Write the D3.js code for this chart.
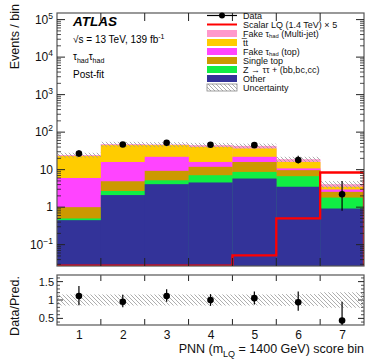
<!DOCTYPE html>
<html>
<head>
<meta charset="utf-8">
<script src="https://cdn.jsdelivr.net/npm/d3@7"></script>
<style>
  body { margin: 0; background: #fff; }
  text { font-family: "Liberation Sans", Arial, sans-serif; }
</style>
</head>
<body>
<div id="chart"></div>
<script>
// bins of the PNN score
var bins = [1, 2, 3, 4, 5, 6, 7];

// background samples, per bin (not stacked)
var other    = [0.45, 2.1, 4.1, 4.55, 5.8, 3.5, 0.92];
var ztautau  = [0.05, 0.6, 1.1, 2.55, 2.9, 3.2, 0.88];
var singleTop= [0.5, 2.2, 4.1, 4.8, 7.3, 3.0, 0.76];
var fakeTop  = [5.0, 11.1, 12.7, 4.1, 6.0, 1.1, 0.4];
var ttbar    = [17, 29, 23, 24.6, 14.7, 5.2, 0.54];
var fakeMJ   = [1.5, 3, 2, 4.4, 6.3, 3, 0.6];
var uncRel   = [0.15, 0.15, 0.15, 0.15, 0.15, 0.16, 0.21];

var data     = [27, 47, 52, 46, 45, 18, 2.2];
var dataUp   = [6, 7.5, 8, 7.5, 7.5, 5.6, 2.8];
var dataDn   = [5, 6.5, 7, 6.5, 6.5, 3.5, 1.4];

// signal LQ x5 (first bins are below the axis)
var signal   = [0.001, 0.001, 0.001, 0.001, 0.052, 0.5, 8.4];

var ratio    = [1.11, 0.95, 1.11, 1.0, 1.05, 0.94, 0.44];
var ratioUp  = [0.27, 0.19, 0.18, 0.16, 0.18, 0.29, 0.51];
var ratioDn  = [0.25, 0.15, 0.16, 0.16, 0.17, 0.23, 0.5];

var samples = [
  {name: "Other", vals: other, color: "#333399"},
  {name: "ztt", vals: ztautau, color: "#11ee44"},
  {name: "Single top", vals: singleTop, color: "#cc9900"},
  {name: "faketop", vals: fakeTop, color: "#ff44ff"},
  {name: "ttbar", vals: ttbar, color: "#ffcc00"},
  {name: "fakemj", vals: fakeMJ, color: "#ff99cc"}
];

var W = 366, H = 360;
var left = 57, right = 364;
var mTop = 13, mBot = 266;
var rTop = 275, rBot = 325;
var frameCol = "#555";

var svg = d3.select("#chart").append("svg")
  .attr("width", W).attr("height", H);

var defs = svg.append("defs");
var pat = defs.append("pattern")
  .attr("id", "hatch")
  .attr("patternUnits", "userSpaceOnUse")
  .attr("width", 4).attr("height", 4);
pat.append("path")
  .attr("d", "M-1,-1 L5,5 M-1,3 L1,5 M3,-1 L5,1")
  .attr("stroke", "#999").attr("stroke-width", 0.8);

defs.append("clipPath").attr("id", "clipMain")
  .append("rect").attr("x", left).attr("y", mTop)
  .attr("width", right - left).attr("height", mBot - mTop);
defs.append("clipPath").attr("id", "clipRatio")
  .append("rect").attr("x", left).attr("y", rTop)
  .attr("width", right - left).attr("height", rBot - rTop);

var x = d3.scaleLinear().domain([0.5, 7.5]).range([left, right]);
var y = d3.scaleLog().domain([0.027, 1.5e5]).range([mBot, mTop]);
var yr = d3.scaleLinear().domain([0.32, 1.68]).range([rBot, rTop]);

// stack
var table = bins.map(function(b, i) {
  var row = {bin: b};
  samples.forEach(function(s) { row[s.name] = s.vals[i]; });
  return row;
});
var stack = d3.stack().keys(samples.map(function(s) { return s.name; }));
var layers = stack(table);

var main = svg.append("g").attr("clip-path", "url(#clipMain)");

// draw top layer first so lower layers sit on top of it
layers.slice().reverse().forEach(function(layer) {
  var k = layer.index;
  main.selectAll(null).data(layer).enter().append("rect")
    .attr("x", function(d) { return x(d.data.bin - 0.5); })
    .attr("width", x(1.5) - x(0.5) + 0.3)
    .attr("y", function(d) { return y(d[1]); })
    .attr("height", function(d) { return mBot - y(d[1]); })
    .attr("fill", samples[k].color);
});

var totals = table.map(function(r) {
  return d3.sum(samples, function(s) { return r[s.name]; });
});

// uncertainty band
main.selectAll(null).data(bins).enter().append("rect")
  .attr("x", function(d) { return x(d - 0.5); })
  .attr("width", x(1.5) - x(0.5))
  .attr("y", function(d, i) { return y(totals[i] * (1 + uncRel[i])); })
  .attr("height", function(d, i) {
    return y(totals[i] * (1 - uncRel[i])) - y(totals[i] * (1 + uncRel[i]));
  })
  .attr("fill", "url(#hatch)");

// signal histogram
var sigPts = [];
bins.forEach(function(b, i) {
  var v = Math.max(signal[i], 0.0275);
  sigPts.push([x(b - 0.5), y(v)]);
  sigPts.push([x(b + 0.5), y(v)]);
});
sigPts.push([x(7.5), mBot]);
main.append("path")
  .attr("d", d3.line()(sigPts))
  .attr("fill", "none").attr("stroke", "#ff0000").attr("stroke-width", 2.3);

// data
main.selectAll(null).data(bins).enter().append("line")
  .attr("x1", function(d) { return x(d); }).attr("x2", function(d) { return x(d); })
  .attr("y1", function(d, i) { return y(data[i] + dataUp[i]); })
  .attr("y2", function(d, i) { return y(data[i] - dataDn[i]); })
  .attr("stroke", "#000").attr("stroke-width", 1.2);
main.selectAll(null).data(bins).enter().append("circle")
  .attr("cx", function(d) { return x(d); })
  .attr("cy", function(d, i) { return y(data[i]); })
  .attr("r", 3.3).attr("fill", "#000");

// axes of main panel
var gAx = svg.append("g");
gAx.append("rect").attr("x", left).attr("y", mTop)
  .attr("width", right - left).attr("height", mBot - mTop)
  .attr("fill", "none").attr("stroke", frameCol).attr("stroke-width", 1.2);

var edges = d3.range(1.5, 7.5, 1);
edges.forEach(function(e) {
  gAx.append("line").attr("x1", x(e)).attr("x2", x(e))
    .attr("y1", mBot).attr("y2", mBot - 8).attr("stroke", "#222");
  gAx.append("line").attr("x1", x(e)).attr("x2", x(e))
    .attr("y1", mTop).attr("y2", mTop + 8).attr("stroke", "#222");
  gAx.append("line").attr("x1", x(e)).attr("x2", x(e))
    .attr("y1", rBot).attr("y2", rBot - 6).attr("stroke", "#222");
  gAx.append("line").attr("x1", x(e)).attr("x2", x(e))
    .attr("y1", rTop).attr("y2", rTop + 6).attr("stroke", "#222");
});

var majors = [0.1, 1, 10, 100, 1000, 1e4, 1e5];
var minors = [];
[-2, -1, 0, 1, 2, 3, 4, 5].forEach(function(p) {
  for (var m = 2; m <= 9; m++) {
    var v = m * Math.pow(10, p);
    if (v > 0.027 && v < 1.5e5) minors.push(v);
  }
});
minors.forEach(function(v) {
  gAx.append("line").attr("x1", left).attr("x2", left + 4)
    .attr("y1", y(v)).attr("y2", y(v)).attr("stroke", "#222").attr("stroke-width", 0.8);
  gAx.append("line").attr("x1", right).attr("x2", right - 4)
    .attr("y1", y(v)).attr("y2", y(v)).attr("stroke", "#222").attr("stroke-width", 0.8);
});
majors.forEach(function(v) {
  gAx.append("line").attr("x1", left).attr("x2", left + 8)
    .attr("y1", y(v)).attr("y2", y(v)).attr("stroke", "#222");
  gAx.append("line").attr("x1", right).attr("x2", right - 8)
    .attr("y1", y(v)).attr("y2", y(v)).attr("stroke", "#222");
  var t = gAx.append("text").attr("x", left - 4).attr("y", y(v) + 4)
    .attr("text-anchor", "end").attr("font-size", 12).attr("fill", "#111");
  var p = Math.round(Math.log10(v));
  if (p === 0) t.text("1");
  else if (p === 1) t.text("10");
  else {
    t.append("tspan").text("10");
    t.append("tspan").attr("dy", -5).attr("font-size", 8.5)
      .text(p < 0 ? "\u2212" + (-p) : p);
  }
});

svg.append("text")
  .attr("transform", "translate(19," + 4 + ") rotate(-90)")
  .attr("text-anchor", "end").attr("font-size", 12.5).attr("fill", "#111")
  .text("Events / bin");

// ATLAS labels
svg.append("text").attr("x", 73).attr("y", 26)
  .attr("font-size", 13.5).attr("font-weight", "bold").attr("font-style", "italic")
  .text("ATLAS");
var lumi = svg.append("text").attr("x", 73).attr("y", 43).attr("font-size", 10);
lumi.append("tspan").text("\u221As = 13 TeV, 139 fb");
lumi.append("tspan").attr("dy", -4).attr("font-size", 7).text("-1");
var ch = svg.append("text").attr("x", 73).attr("y", 60).attr("font-size", 10);
ch.append("tspan").text("\u03c4");
ch.append("tspan").attr("dy", 3).attr("font-size", 7).text("had");
ch.append("tspan").attr("dy", -3).text("\u03c4");
ch.append("tspan").attr("dy", 3).attr("font-size", 7).text("had");
svg.append("text").attr("x", 73).attr("y", 78).attr("font-size", 10).text("Post-fit");

// legend
var legX = 207, legW = 30, legTx = 243, legY0 = 15.5, legDy = 9;
var legend = [
  {type: "data", label: ["Data"]},
  {type: "line", label: ["Scalar LQ (1.4 TeV) \u00d7 5"]},
  {type: "box", color: "#ff99cc", label: ["Fake \u03c4", "had", " (Multi-jet)"]},
  {type: "box", color: "#ffcc00", label: ["t\u0305t"]},
  {type: "box", color: "#ff44ff", label: ["Fake \u03c4", "had", " (top)"]},
  {type: "box", color: "#cc9900", label: ["Single top"]},
  {type: "box", color: "#11ee44", label: ["Z \u2192 \u03c4\u03c4 + (bb,bc,cc)"]},
  {type: "box", color: "#333399", label: ["Other"]},
  {type: "hatch", label: ["Uncertainty"]}
];
legend.forEach(function(l, i) {
  var cy = legY0 + i * legDy;
  if (l.type === "data") {
    svg.append("line").attr("x1", legX).attr("x2", legX + legW)
      .attr("y1", cy).attr("y2", cy).attr("stroke", "#000").attr("stroke-width", 1.2);
    svg.append("circle").attr("cx", legX + legW / 2).attr("cy", cy).attr("r", 3).attr("fill", "#000");
  } else if (l.type === "line") {
    svg.append("line").attr("x1", legX).attr("x2", legX + legW)
      .attr("y1", cy).attr("y2", cy).attr("stroke", "#ff0000").attr("stroke-width", 2);
  } else if (l.type === "box") {
    svg.append("rect").attr("x", legX).attr("y", cy - 3.5)
      .attr("width", legW).attr("height", 7).attr("fill", l.color);
  } else {
    svg.append("rect").attr("x", legX).attr("y", cy - 3.5)
      .attr("width", legW).attr("height", 7).attr("fill", "url(#hatch)")
      .attr("stroke", "#888").attr("stroke-width", 0.8);
  }
  var t = svg.append("text").attr("x", legTx).attr("y", cy + 3.2)
    .attr("font-size", 9).attr("fill", "#111");
  t.append("tspan").text(l.label[0]);
  if (l.label.length > 1) {
    t.append("tspan").attr("dy", 1).attr("font-size", 5.8).text(l.label[1]);
    t.append("tspan").attr("dy", -1).text(l.label[2]);
  }
});

// ratio panel
var rp = svg.append("g").attr("clip-path", "url(#clipRatio)");
rp.selectAll(null).data(bins).enter().append("rect")
  .attr("x", function(d) { return x(d - 0.5); })
  .attr("width", x(1.5) - x(0.5))
  .attr("y", function(d, i) { return yr(1 + uncRel[i]); })
  .attr("height", function(d, i) { return yr(1 - uncRel[i]) - yr(1 + uncRel[i]); })
  .attr("fill", "url(#hatch)");
rp.selectAll(null).data(bins).enter().append("line")
  .attr("x1", function(d) { return x(d); }).attr("x2", function(d) { return x(d); })
  .attr("y1", function(d, i) { return yr(ratio[i] + ratioUp[i]); })
  .attr("y2", function(d, i) { return yr(ratio[i] - ratioDn[i]); })
  .attr("stroke", "#000").attr("stroke-width", 1.2);
rp.selectAll(null).data(bins).enter().append("circle")
  .attr("cx", function(d) { return x(d); })
  .attr("cy", function(d, i) { return yr(ratio[i]); })
  .attr("r", 3.3).attr("fill", "#000");

gAx.append("rect").attr("x", left).attr("y", rTop)
  .attr("width", right - left).attr("height", rBot - rTop)
  .attr("fill", "none").attr("stroke", frameCol).attr("stroke-width", 1.2);

var rMinor = d3.range(0.4, 1.65, 0.1).filter(function(v) {
  return Math.abs(v * 2 - Math.round(v * 2)) > 0.01;
});
rMinor.forEach(function(v) {
  gAx.append("line").attr("x1", left).attr("x2", left + 3)
    .attr("y1", yr(v)).attr("y2", yr(v)).attr("stroke", "#222").attr("stroke-width", 0.8);
  gAx.append("line").attr("x1", right).attr("x2", right - 3)
    .attr("y1", yr(v)).attr("y2", yr(v)).attr("stroke", "#222").attr("stroke-width", 0.8);
});
var rTicks = [0.5, 1, 1.5];
rTicks.forEach(function(v) {
  gAx.append("line").attr("x1", left).attr("x2", left + 6)
    .attr("y1", yr(v)).attr("y2", yr(v)).attr("stroke", "#222");
  gAx.append("line").attr("x1", right).attr("x2", right - 6)
    .attr("y1", yr(v)).attr("y2", yr(v)).attr("stroke", "#222");
  gAx.append("text").attr("x", left - 3).attr("y", yr(v) + 4)
    .attr("text-anchor", "end").attr("font-size", 11).attr("fill", "#111")
    .text(v === 1 ? "1" : v);
});

svg.append("text")
  .attr("transform", "translate(19,306) rotate(-90)")
  .attr("text-anchor", "middle").attr("font-size", 12.5).attr("fill", "#111")
  .text("Data/Pred.");

var xAxis = d3.axisBottom(x).tickValues(bins).tickFormat(d3.format("d"))
  .tickSize(0).tickPadding(5);
var gx = svg.append("g").attr("transform", "translate(0," + rBot + ")").call(xAxis);
gx.select(".domain").remove();
gx.selectAll("text").attr("font-size", 12).attr("fill", "#111")
  .attr("font-family", "Liberation Sans, Arial, sans-serif");

var xt = svg.append("text").attr("x", right).attr("y", 353)
  .attr("text-anchor", "end").attr("font-size", 12.5).attr("fill", "#111");
xt.append("tspan").text("PNN (m");
xt.append("tspan").attr("dy", 4).attr("font-size", 9).text("LQ");
xt.append("tspan").attr("dy", -4).text(" = 1400 GeV) score bin");
</script>
</body>
</html>
